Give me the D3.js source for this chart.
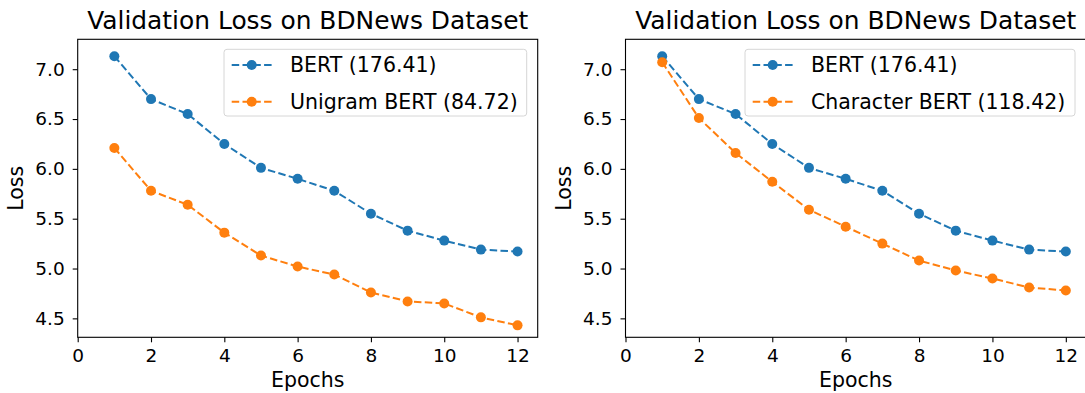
<!DOCTYPE html>
<html>
<head>
    <meta charset="utf-8" />
    <title>Validation Loss on BDNews Dataset</title>
    <script src="https://cdn.jsdelivr.net/npm/d3@7"></script>
</head>
<body style="margin:0;background:#fff">
    <style>
        svg text { font-family: "DejaVu Sans", sans-serif; fill: #000; }
        .axis path, .axis line { stroke: #000; stroke-width: 1.1; }
        .axis text { font-size: 18.5px; }
    </style>

    <svg id="chart" width="1085" height="393"></svg>

    <script>
    var epochs = [1, 2, 3, 4, 5, 6, 7, 8, 9, 10, 11, 12];
    var bertLoss = [7.13, 6.70, 6.55, 6.25, 6.01, 5.90, 5.78, 5.55, 5.38, 5.28, 5.19, 5.17];
    var unigramLoss = [6.21, 5.78, 5.64, 5.36, 5.13, 5.02, 4.94, 4.76, 4.67, 4.65, 4.51, 4.43];
    var charLoss = [7.07, 6.51, 6.16, 5.87, 5.59, 5.42, 5.25, 5.08, 4.98, 4.90, 4.81, 4.78];
    var xTicks = [0, 2, 4, 6, 8, 10, 12];
    var yTicks = [4.5, 5.0, 5.5, 6.0, 6.5, 7.0];

    var blue = "#1f77b4", orange = "#ff7f0e";
    var svg = d3.select("#chart");
    var plotTop = 39.3, plotBottom = 337.3;

    var y = d3.scaleLinear().domain([4.31, 7.30]).range([plotBottom, plotTop]);

    var panels = [
        { x0: 77.7, x1: 537.7, series: [
            { name: "BERT (176.41)", values: bertLoss, color: blue },
            { name: "Unigram BERT (84.72)", values: unigramLoss, color: orange }
          ], legendX: 224, legendW: 302.7 },
        { x0: 625.5, x1: 1086, series: [
            { name: "BERT (176.41)", values: bertLoss, color: blue },
            { name: "Character BERT (118.42)", values: charLoss, color: orange }
          ], legendX: 745, legendW: 330 }
    ];

    panels.forEach(function (p) {
        var x = d3.scaleLinear().domain([0, 12.55]).range([p.x0, p.x1]);
        var g = svg.append("g");

        // frame
        g.append("rect")
            .attr("x", p.x0).attr("y", plotTop)
            .attr("width", p.x1 - p.x0).attr("height", plotBottom - plotTop)
            .attr("fill", "none").attr("stroke", "#000").attr("stroke-width", 1.1);

        g.append("g").attr("class", "axis")
            .attr("transform", "translate(0," + plotBottom + ")")
            .call(d3.axisBottom(x).tickValues(xTicks).tickSize(5).tickPadding(7).tickSizeOuter(0))
            .call(function (a) { a.select(".domain").remove(); });

        g.append("g").attr("class", "axis")
            .attr("transform", "translate(" + p.x0 + ",0)")
            .call(d3.axisLeft(y).tickValues(yTicks).tickFormat(d3.format(".1f")).tickSize(5).tickPadding(8).tickSizeOuter(0))
            .call(function (a) { a.select(".domain").remove(); });

        var line = d3.line()
            .x(function (d, i) { return x(epochs[i]); })
            .y(function (d) { return y(d); });

        p.series.forEach(function (s) {
            g.append("path")
                .attr("d", line(s.values))
                .attr("fill", "none")
                .attr("stroke", s.color)
                .attr("stroke-width", 2)
                .attr("stroke-dasharray", "7.5,3.3");
            g.selectAll(null).data(s.values).enter().append("circle")
                .attr("cx", function (d, i) { return x(epochs[i]); })
                .attr("cy", function (d) { return y(d); })
                .attr("r", 5)
                .attr("fill", s.color);
        });

        // title and labels
        g.append("text")
            .attr("x", (p.x0 + p.x1) / 2).attr("y", 29)
            .attr("text-anchor", "middle")
            .style("font-size", "24.9px")
            .text("Validation Loss on BDNews Dataset");
        g.append("text")
            .attr("x", (p.x0 + p.x1) / 2).attr("y", 387)
            .attr("text-anchor", "middle")
            .style("font-size", "20.5px")
            .text("Epochs");
        g.append("text")
            .attr("transform", "translate(" + (p.x0 - 55) + "," + ((plotTop + plotBottom) / 2) + ") rotate(-90)")
            .attr("text-anchor", "middle")
            .style("font-size", "20.5px")
            .text("Loss");

        // legend
        var lg = g.append("g").attr("transform", "translate(" + p.legendX + ",49.3)");
        lg.append("rect")
            .attr("width", p.legendW).attr("height", 66.7)
            .attr("rx", 3)
            .attr("fill", "#fff").attr("fill-opacity", 0.8)
            .attr("stroke", "#d6d6d6").attr("stroke-width", 1);
        p.series.forEach(function (s, i) {
            var cy = 15.7 + i * 36.7;
            lg.append("line")
                .attr("x1", 7.7).attr("x2", 47.7)
                .attr("y1", cy).attr("y2", cy)
                .attr("stroke", s.color).attr("stroke-width", 2)
                .attr("stroke-dasharray", "7.5,3.3");
            lg.append("circle").attr("cx", 27.7).attr("cy", cy).attr("r", 5).attr("fill", s.color);
            lg.append("text")
                .attr("x", 66).attr("y", cy).attr("dy", "0.36em")
                .style("font-size", "20.5px")
                .text(s.name);
        });
    });
    </script>
</body>
</html>
